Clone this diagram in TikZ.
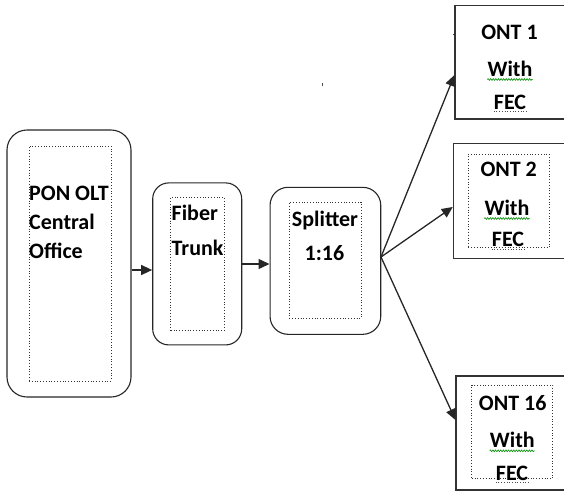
\documentclass[tikz,border=0pt]{standalone}
\usepackage{fontspec}
\setmainfont{Carlito}
\usetikzlibrary{arrows.meta,decorations.pathmorphing}

\begin{document}
\begin{tikzpicture}[x=1pt,y=-1pt,
  roundbox/.style={draw=black!85, line width=1.1pt, inner sep=0pt},
  plainbox/.style={draw=black!80, line width=1.1pt, inner sep=0pt},
  dotbox/.style={draw=black!80, dotted, line width=0.8pt, inner sep=0pt},
  lbl/.style={font=\fontsize{22}{22}\selectfont\bfseries, inner sep=0pt, anchor=base},
  lblw/.style={lbl, anchor=base west},
  arr/.style={draw=black!85, line width=1.3pt, -{Triangle[length=11pt,width=10pt]}},
  spell/.style={draw=green!55!black, line width=0.6pt,
    decorate, decoration={zigzag, amplitude=0.9pt, segment length=2.6pt}},
  gram/.style={draw=black!70, dotted, line width=0.7pt}
]
\useasboundingbox (0,0) rectangle (564,491);

% central office
\node[roundbox, rounded corners=20pt, minimum width=124pt, minimum height=267pt] (olt) at (69,263.5) {};
\node[dotbox, minimum width=82pt, minimum height=235pt] (oltin) at (70,263.5) {};
\node[lblw] (olta) at (29,200) {PON OLT};
\node[lblw] (oltb) at (29,229) {Central};
\node[lblw] (oltc) at (29,258) {Office};

% fiber trunk
\node[roundbox, rounded corners=16pt, minimum width=89pt, minimum height=162pt] (fib) at (197.2,263.9) {};
\node[dotbox, minimum width=53.6pt, minimum height=132.7pt] (fibin) at (197.5,263.7) {};
\node[lblw] (fiba) at (171.5,220) {Fiber};
\node[lblw] (fibb) at (171.5,255) {Trunk};

% splitter
\node[roundbox, rounded corners=18pt, minimum width=110.7pt, minimum height=147pt] (spl) at (325.4,260.8) {};
\node[dotbox, minimum width=71.7pt, minimum height=116pt] (splin) at (325.2,260.3) {};
\node[lbl] (spla) at (325,226.7) {Splitter};
\node[lbl] (splb) at (324.5,260) {1:16};

% ONT 1
\node[plainbox, minimum width=115pt, minimum height=113.3pt] (ont1) at (512.5,62.35) {};
\node[lbl] (o1a) at (509.5,39.3) {ONT 1};
\node[lbl] (o1b) at (510,76) {With};
\node[lbl] (o1c) at (510,109.3) {FEC};

% ONT 2
\node[plainbox, minimum width=116.7pt, minimum height=115pt] (ont2) at (511.65,200.8) {};
\node[dotbox, minimum width=81pt, minimum height=93.3pt] (ont2in) at (508.8,200.65) {};
\node[lbl] (o2a) at (508.7,176.7) {ONT 2};
\node[lbl] (o2b) at (507,215) {With};
\node[lbl] (o2c) at (508,246.7) {FEC};

% ONT 16
\node[plainbox, minimum width=114pt, minimum height=114pt] (ont16) at (513,433) {};
\node[dotbox, minimum width=81pt, minimum height=93.3pt] (ont16in) at (512.2,431.65) {};
\node[lbl] (o3a) at (512.7,410) {ONT 16};
\node[lbl] (o3b) at (512.3,447.3) {With};
\node[lbl] (o3c) at (512,480) {FEC};

% spelling and grammar marks under the ONT labels
\foreach \w in {o1b,o2b,o3b}
  \draw[spell] ([yshift=-3.5pt]\w.base west) -- ([yshift=-3.5pt]\w.base east);
\foreach \f in {o1c,o2c,o3c}
  \draw[gram] ([yshift=-2.5pt]\f.base west) -- ([yshift=-2.5pt]\f.base east);

% stray marks
\fill[black!70] (321.5,83) rectangle (323,85.5);
\fill[black!80] (452.5,33.5) rectangle (455,35);

% links
\coordinate (fan) at (381,257);
\draw[arr] (olt.east |- 0,270) -- (fib.west |- 0,270);
\draw[arr] (fib.east |- 0,264) -- (spl.west |- 0,264);
\draw[arr] (fan) -- (ont1.west |- 0,75);
\draw[arr] (fan) -- (ont2.west |- 0,207);
\draw[arr] (fan) -- (ont16.west |- 0,420);
\end{tikzpicture}
\end{document}
